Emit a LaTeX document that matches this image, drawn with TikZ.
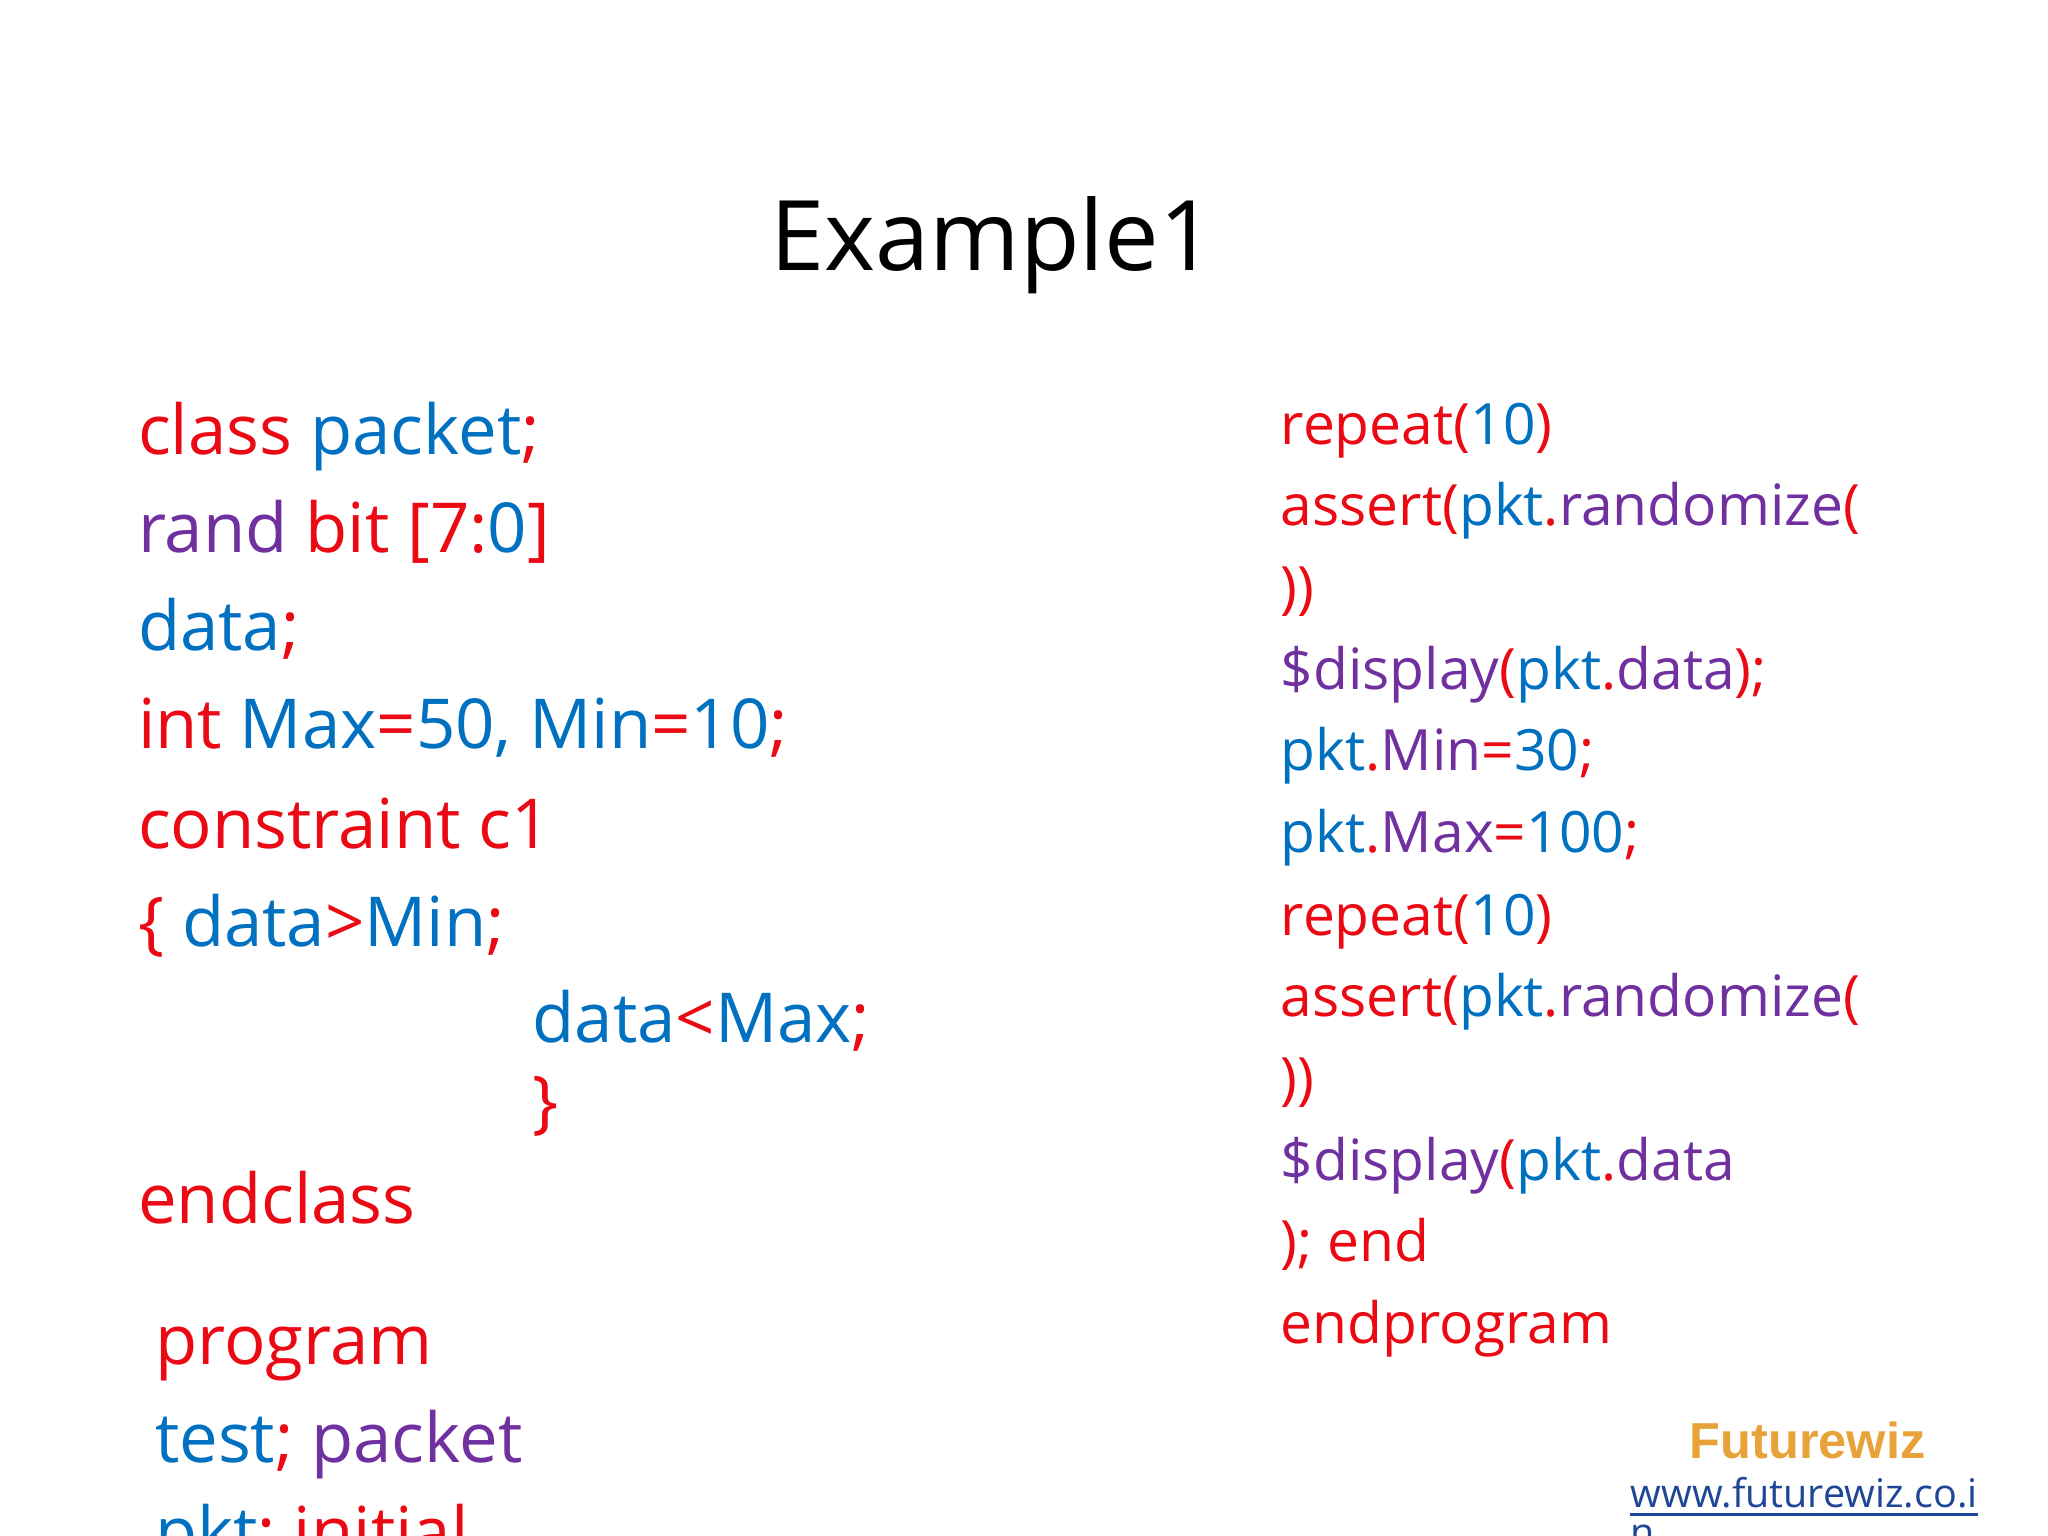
\documentclass[tikz,border=0pt]{standalone}
\usepackage{fontspec}
\setmainfont{Open Sans}
\newfontfamily\logofont{Liberation Sans}
\definecolor{cred}{RGB}{235,10,20}
\definecolor{cblue}{RGB}{0,112,192}
\definecolor{cpurple}{RGB}{112,48,160}
\definecolor{corange}{RGB}{232,162,58}
\definecolor{clink}{RGB}{30,70,150}
\newcommand{\kr}[1]{\textcolor{cred}{#1}}
\newcommand{\kb}[1]{\textcolor{cblue}{#1}}
\newcommand{\kp}[1]{\textcolor{cpurple}{#1}}
\begin{document}
\begin{tikzpicture}[x=0.01cm,y=-0.01cm]
\tikzset{big/.style={anchor=base west,inner sep=0pt,font=\fontsize{15}{18}\selectfont},
         small/.style={anchor=base west,inner sep=0pt,font=\fontsize{12.4}{15}\selectfont},
         link/.style={anchor=base west,inner sep=0pt,font=\fontsize{8.6}{11}\selectfont,text=clink}}
\useasboundingbox (0,0) rectangle (1568,1176);
\clip (0,0) rectangle (1568,1176);
\fill[white] (0,0) rectangle (1568,1176);
\node[anchor=base,inner sep=0pt,font=\fontsize{21.2}{26}\selectfont] (title) at (760,207) {Example1};
% left column
\node[big] (l1) at (105,348) {\kr{class} \kb{packet}\kr{;}};
\node[big] (l2) at (105,423) {\kp{rand} \kr{bit [}\kr{7}\kr{:}\kb{0}\kr{]}};
\node[big] (l3) at (105,498) {\kb{data}\kr{;}};
\node[big] (l4) at (105,573) {\kr{int} \kb{Max}\kr{=}\kb{50, Min}\kr{=}\kb{10}\kr{;}};
\node[big] (l5) at (105,650) {\kr{constraint c1}};
\node[big] (l6) at (105,725) {\kr{\{} \kb{data}\kr{>}\kb{Min}\kr{;}};
\node[big] (l7) at (407,798) {\kb{data}\kr{<}\kb{Max}\kr{;}};
\node[big] (l8) at (407,862) {\kr{\}}};
\node[big] (l9) at (105,937) {\kr{endclass}};
\node[big] (l10) at (118,1045) {\kr{program}};
\node[big] (l11) at (118,1120) {\kb{test}\kr{;} \kp{packet}};
\node[big] (l12) at (118,1192) {\kb{pkt}\kr{; initial}};
% right column
\node[small] (r1) at (980,340) {\kr{repeat(}\kb{10}\kr{)}};
\node[small] (r2) at (980,402) {\kr{assert(}\kb{pkt}\kr{.}\kp{randomize}\kr{(}};
\node[small] (r3) at (980,465) {\kr{))}};
\node[small] (r4) at (980,528) {\kp{\$display}\kr{(}\kb{pkt}\kr{.}\kp{data}\kr{);}};
\node[small] (r5) at (980,590) {\kb{pkt}\kr{.}\kp{Min}\kr{=}\kb{30}\kr{;}};
\node[small] (r6) at (980,653) {\kb{pkt}\kr{.}\kp{Max}\kr{=}\kb{100}\kr{;}};
\node[small] (r7) at (980,716) {\kr{repeat(}\kb{10}\kr{)}};
\node[small] (r8) at (980,778) {\kr{assert(}\kb{pkt}\kr{.}\kp{randomize}\kr{(}};
\node[small] (r9) at (980,841) {\kr{))}};
\node[small] (r10) at (980,904) {\kp{\$display}\kr{(}\kb{pkt}\kr{.}\kp{data}};
\node[small] (r11) at (980,966) {\kr{); end}};
\node[small] (r12) at (980,1029) {\kr{endprogram}};
% logo
\node[anchor=base,inner sep=0pt,font=\logofont\bfseries\fontsize{11}{13}\selectfont,text=corange] (logo) at (1384,1117) {Futurewiz};
\node[link] (web) at (1248,1154) {www.futurewiz.co.i};
\node[link] (web2) at (1248,1184) {n};
\draw[clink,line width=0.6pt] ([yshift=-1.5pt]web.base west) -- ([yshift=-1.5pt]web.base east);
\end{tikzpicture}
\end{document}
